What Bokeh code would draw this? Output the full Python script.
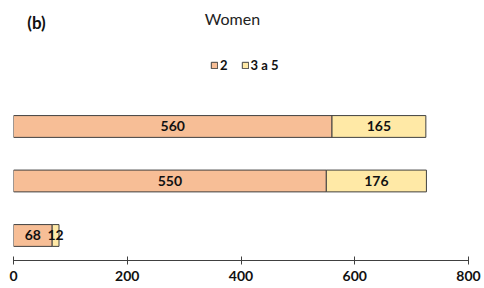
import numpy as np
from bokeh.plotting import figure
from bokeh.models import Range1d, Label, ColumnDataSource, FixedTicker
from bokeh.core.properties import value
from bokeh.embed import file_html
from bokeh.resources import INLINE

# ---- data (rows listed top to bottom) ----
rows = ["Row A", "Row B", "Row C"]
series_names = ["2", "3 a 5"]
vals_2 = [560, 550, 68]
vals_3a5 = [165, 176, 12]
x_ticks = [0, 200, 400, 600, 800]
title_text = "Women"
panel_text = "(b)"

c_2 = "#F7BE96"
c_3 = "#FFE9A6"
edge = "#404040"
FONT = "Lato"

v2 = np.array(vals_2, dtype=float)
v3 = np.array(vals_3a5, dtype=float)
ypos = np.arange(len(rows))[::-1].astype(float)

src = ColumnDataSource(dict(
    y=ypos, v2=v2, v3=v3, end=v2 + v3,
    c2=v2 / 2, c3=v2 + v3 / 2,
    t2=[str(int(v)) for v in v2], t3=[str(int(v)) for v in v3],
))

p = figure(width=484, height=288, output_backend="svg", toolbar_location=None,
           x_range=Range1d(0, 800), y_range=Range1d(-0.459, 4.165),
           min_border_left=13, min_border_right=16, min_border_top=8,
           min_border_bottom=28)
p.outline_line_color = None
p.grid.visible = False
p.yaxis.visible = False

p.hbar(y="y", left=0, right="v2", height=0.4, source=src, fill_color=c_2,
       line_color=edge, line_width=1, legend_label=series_names[0])
p.hbar(y="y", left="v2", right="end", height=0.4, source=src, fill_color=c_3,
       line_color=edge, line_width=1, legend_label=series_names[1])

p.text(x="c2", y="y", text="t2", source=src, text_align="center",
       text_baseline="middle", text_font=value(FONT), text_font_style="bold",
       text_font_size="14px", text_color="#111111")
p.text(x="c3", y="y", text="t3", source=src, text_align="center",
       text_baseline="middle", text_font=value(FONT), text_font_style="bold",
       text_font_size="14px", text_color="#111111")

ax = p.xaxis[0]
ax.ticker = FixedTicker(ticks=x_ticks)
ax.minor_tick_line_color = None
ax.major_tick_in = 4
ax.major_tick_out = 4
ax.axis_line_color = edge
ax.major_tick_line_color = edge
ax.major_label_text_font = FONT
ax.major_label_text_font_style = "bold"
ax.major_label_text_font_size = "14px"
ax.major_label_text_color = "#111111"
ax.major_label_standoff = 6

lg = p.legend[0]
lg.orientation = "horizontal"
lg.location = (197, 187)
lg.glyph_width = 8
lg.glyph_height = 8
lg.label_height = 14
lg.label_width = 7
lg.label_standoff = 2
lg.spacing = 13
lg.padding = 0
lg.margin = 0
lg.border_line_color = None
lg.background_fill_alpha = 0
lg.label_text_font = FONT
lg.label_text_font_style = "bold"
lg.label_text_font_size = "13px"
lg.label_text_color = "#111111"

p.add_layout(Label(x=219, y=242, x_units="screen", y_units="screen",
                   text=title_text, text_align="center", text_baseline="alphabetic",
                   text_font=FONT, text_font_size="16px", text_color="#222222"))
p.add_layout(Label(x=23, y=238, x_units="screen", y_units="screen",
                   text=panel_text, text_align="center", text_baseline="middle",
                   text_font=FONT, text_font_style="bold", text_font_size="17px",
                   text_color="#111111"))

open("out.html", "w").write(file_html(p, INLINE))
